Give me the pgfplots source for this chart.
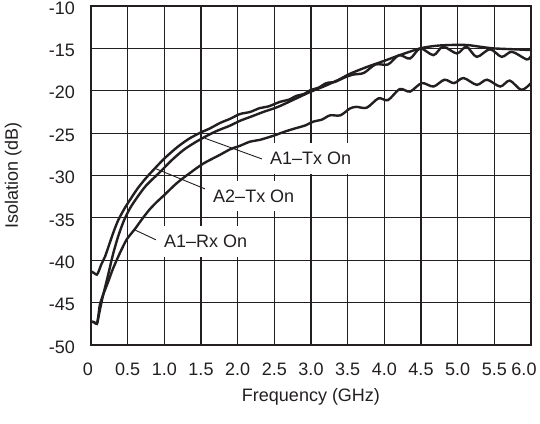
\documentclass[border=0pt]{standalone}
\usepackage{fontspec}
\setmainfont{Liberation Sans}
\usepackage{pgfplots}
\pgfplotsset{compat=1.18}
\definecolor{ink}{HTML}{231F20}
\newcommand{\lblfont}{\fontsize{18}{22}\selectfont}
\begin{document}
\begin{tikzpicture}
\path[use as bounding box] (-91pt,-78pt) rectangle (449pt,345pt);
\begin{axis}[
  at={(0pt,0pt)}, anchor=south west,
  scale only axis, width=440pt, height=339pt,
  xmin=0, xmax=6, ymin=-50, ymax=-10,
  xtick={0,0.5,1,1.5,2,2.5,3,3.5,4,4.5,5,5.5,6},
  xticklabels={\makebox[0pt]{0\hspace{6pt}},0.5,1.0,1.5,2.0,2.5,3.0,3.5,4.0,4.5,5.0,5.5,\makebox[0pt]{6.0\hspace{14pt}}},
  ytick={-50,-45,-40,-35,-30,-25,-20,-15,-10},
  yticklabels={-50,-45,-40,-35,-30,-25,-20,-15,-10},
  major tick length=0pt,
  grid=major,
  major grid style={line width=1.2pt, color=ink},
  axis line style={line width=1.2pt, color=ink},
  tick label style={font=\lblfont, text=ink, inner sep=0pt},
  xticklabel style={anchor=north, yshift=-17pt, text height=12.9pt},
  yticklabel style={anchor=east, xshift=-16pt, yshift=-2pt},
  xlabel={Frequency (GHz)},
  ylabel={Isolation (dB)},
  label style={font=\lblfont, text=ink},
  xlabel style={at={(axis description cs:0.5,-0.153)}, anchor=center},
  ylabel style={at={(axis description cs:-0.177,0.5)}, anchor=center},
  clip=false,
]
% A2-Tx On (wavy, starts at -41.5)
\addplot[ink, line width=2.4pt, smooth] coordinates {
(0.0,-41.3) (0.04,-41.5) (0.08,-41.7) (0.11,-41.2) (0.14,-40.5) (0.19,-39.6)
(0.25,-38.1) (0.31,-36.6) (0.37,-35.3) (0.45,-34.0) (0.53,-32.9) (0.63,-31.6)
(0.74,-30.4) (0.85,-29.35) (1.0,-28.0) (1.17,-26.7) (1.33,-25.7) (1.49,-24.95)
(1.62,-24.45) (1.76,-23.8) (1.9,-23.3) (2.03,-22.75) (2.17,-22.5) (2.3,-22.05)
(2.42,-21.85) (2.58,-21.3) (2.7,-21.05) (2.8,-20.6) (2.9,-20.4) (3.0,-19.9)
(3.1,-19.65) (3.21,-19.1) (3.33,-18.95) (3.44,-18.5) (3.57,-18.1) (3.72,-17.9)
(3.88,-16.9) (4.05,-16.9) (4.2,-15.8) (4.35,-16.2) (4.49,-15.0) (4.67,-15.8)
(4.8,-14.8) (4.99,-15.6) (5.12,-14.8) (5.26,-16.0) (5.44,-15.1) (5.6,-16.0)
(5.74,-15.4) (5.94,-16.3) (6.0,-15.9)
};
% A1-Tx On (smooth)
\addplot[ink, line width=2.4pt, smooth] coordinates {
(0.0,-47.25) (0.04,-47.3) (0.08,-47.5) (0.1,-46.8) (0.13,-45.5) (0.16,-44.3)
(0.2,-42.9) (0.24,-41.5) (0.3,-39.3) (0.37,-37.2) (0.45,-35.3) (0.53,-33.9)
(0.62,-32.7) (0.75,-31.2) (0.94,-29.6) (1.1,-28.2) (1.26,-27.0) (1.4,-26.2)
(1.53,-25.55) (1.7,-24.8) (1.9,-24.1) (2.03,-23.55) (2.2,-23.0) (2.35,-22.5)
(2.55,-21.9) (2.8,-20.9) (3.0,-20.1) (3.2,-19.4) (3.4,-18.6) (3.53,-18.0)
(3.76,-17.2) (3.99,-16.5) (4.21,-15.8) (4.49,-15.0) (4.7,-14.7) (4.9,-14.6)
(5.12,-14.6) (5.3,-14.8) (5.49,-15.0) (5.75,-15.1) (6.0,-15.2)
};
% A1-Rx On (lowest)
\addplot[ink, line width=2.4pt, smooth] coordinates {
(0.0,-47.25) (0.04,-47.3) (0.08,-47.5) (0.1,-46.6) (0.12,-45.3) (0.16,-44.2)
(0.2,-43.3) (0.24,-42.4) (0.3,-41.0) (0.37,-39.6) (0.43,-38.5) (0.49,-37.5)
(0.6,-36.3) (0.7,-35.1) (0.8,-34.0) (0.9,-33.1) (1.0,-32.3) (1.17,-30.9)
(1.35,-29.7) (1.53,-28.6) (1.75,-27.6) (1.9,-26.9) (2.03,-26.5) (2.17,-26.0)
(2.3,-25.8) (2.49,-25.3) (2.65,-24.8) (2.8,-24.4) (2.92,-24.1) (3.03,-23.65)
(3.15,-23.4) (3.26,-22.9) (3.4,-22.9) (3.53,-22.1) (3.62,-21.9) (3.76,-22.0)
(3.92,-20.9) (4.05,-21.1) (4.21,-19.8) (4.35,-20.1) (4.51,-19.1) (4.67,-19.5)
(4.82,-18.7) (4.95,-19.1) (5.08,-18.5) (5.26,-19.3) (5.4,-18.7) (5.58,-19.5)
(5.71,-18.8) (5.87,-19.9) (6.0,-19.1)
};
% leader lines and labels
\draw[ink, line width=0.9pt] (axis cs:1.555,-25.61) -- (axis cs:2.332,-28.05);
\draw[ink, line width=0.9pt] (axis cs:0.87,-29.15) -- (axis cs:1.555,-31.58);
\draw[ink, line width=0.9pt] (axis cs:0.6,-36.43) -- (axis cs:0.886,-37.59);
\node[font=\lblfont, text=ink, fill=white, anchor=west, inner xsep=8pt, inner ysep=9pt, text depth=0pt] at (axis cs:2.332,-27.99) {A1–Tx On};
\node[font=\lblfont, text=ink, fill=white, anchor=west, inner xsep=8pt, inner ysep=9pt, text depth=0pt] at (axis cs:1.555,-32.42) {A2–Tx On};
\node[font=\lblfont, text=ink, fill=white, anchor=west, inner xsep=8pt, inner ysep=9pt, text depth=0pt] at (axis cs:0.886,-37.79) {A1–Rx On};
\end{axis}
\end{tikzpicture}
\end{document}
